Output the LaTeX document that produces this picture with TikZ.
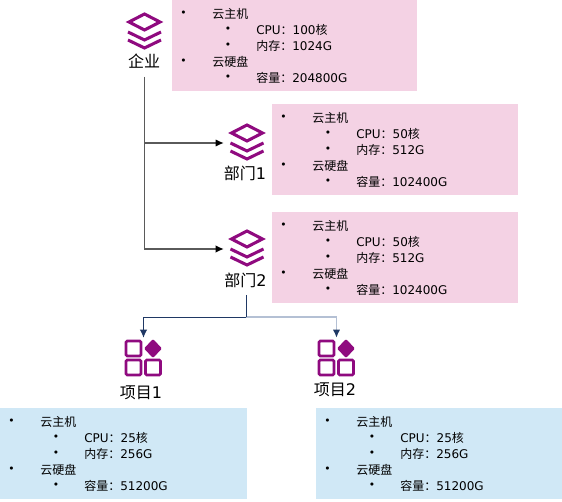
\documentclass[tikz,border=0pt]{standalone}
\usepackage{fontspec}
\setmainfont{Noto Sans CJK SC}
\newfontfamily\latinfont{DejaVu Sans}
\usetikzlibrary{arrows.meta}
\definecolor{iconpurple}{HTML}{8F0A7F}
\definecolor{panelpink}{HTML}{F4D2E4}
\definecolor{panelblue}{HTML}{D0E8F6}
\definecolor{linegrey}{HTML}{5A5A5A}
\definecolor{linenavy}{HTML}{1F3864}
\definecolor{linepale}{HTML}{B4C0D4}
\tikzset{
    paneltext/.style={anchor=west,inner sep=0pt,font=\fontsize{9pt}{9pt}\selectfont},
    dotmark/.style={anchor=center,inner sep=0pt,font=\latinfont\fontsize{8pt}{8pt}\selectfont},
    orglabel/.style={inner sep=0pt,font=\fontsize{12pt}{12pt}\selectfont},
    iconline/.style={draw=iconpurple,line width=2.3pt,line join=miter},
    pics/stackicon/.style={code={
        \node[minimum width=34.5pt,minimum height=30pt,inner sep=0pt] (-box) at (0,0) {};
        \draw[iconline] (-15.5,-10) -- (0,-18) -- (15.5,-10) -- (0,-2) -- cycle;
        \draw[iconline] (-16.5,0) -- (0,8) -- (16.5,0);
        \draw[iconline] (-16.5,8) -- (0,16) -- (16.5,8);
    }},
    pics/gridicon/.style={code={
        \node[minimum width=30pt,minimum height=30pt,inner sep=0pt] (-box) at (0,0) {};
        \draw[iconline,rounded corners=1pt,line width=2pt] (-17.5,-17) rectangle (-2.5,-2);
        \draw[iconline,rounded corners=1pt,line width=2pt] (-17.5,2) rectangle (-2.5,17);
        \draw[iconline,rounded corners=1pt,line width=2pt] (2,2) rectangle (17,17);
        \fill[iconpurple,rounded corners=1pt] (9.5,-19) -- (18.5,-9.5) -- (9.5,0) -- (0.5,-9.5) -- cycle;
    }},
    % #1 fill, #2 cpu, #3 memory, #4 disk, #5 width
    pics/resbox/.style n args={5}{code={
        \fill[#1] (0,0) rectangle (#5,91);
        \node[dotmark] (-d1) at (11.5,14) {•};
        \node[paneltext] (-t1) at (40,13.5) {云主机};
        \node[dotmark] (-d2) at (56,30) {•};
        \node[paneltext] (-t2) at (84,29.5) {{\latinfont CPU}：#2核};
        \node[dotmark] (-d3) at (56,46) {•};
        \node[paneltext] (-t3) at (84,45.5) {内存：{\latinfont #3G}};
        \node[dotmark] (-d4) at (11.5,62) {•};
        \node[paneltext] (-t4) at (40,61.5) {云硬盘};
        \node[dotmark] (-d5) at (56,78) {•};
        \node[paneltext] (-t5) at (84,77.5) {容量：{\latinfont #4G}};
    }},
}
\begin{document}
\begin{tikzpicture}[x=0.75pt,y=-0.75pt,>={Latex[length=6pt,width=5.5pt,color=linenavy]}]
    \useasboundingbox (0,0) rectangle (562,502);
    % panels
    \pic (boxqiye) at (172,0) {resbox={panelpink}{{\latinfont 100}}{1024}{204800}{245}};
    \pic (boxbu1) at (272,104) {resbox={panelpink}{{\latinfont 50}}{512}{102400}{246}};
    \pic (boxbu2) at (272,212) {resbox={panelpink}{{\latinfont 50}}{512}{102400}{246}};
    \pic (boxxm1) at (0,408) {resbox={panelblue}{{\latinfont 25}}{256}{51200}{247}};
    \pic (boxxm2) at (316,408) {resbox={panelblue}{{\latinfont 25}}{256}{51200}{246}};
    % icons and names
    \pic (iconqiye) at (144.5,32) {stackicon};
    \pic (iconbu1) at (247,143) {stackicon};
    \pic (iconbu2) at (247,249) {stackicon};
    \pic (iconxm1) at (143.5,358) {gridicon};
    \pic (iconxm2) at (336.5,358) {gridicon};
    \node[orglabel] (qiye) at (144,61) {企业};
    \node[orglabel] (bu1) at (245,173) {部门{\latinfont 1}};
    \node[orglabel] (bu2) at (245.5,280) {部门{\latinfont 2}};
    \node[orglabel] (xm1) at (141,393) {项目{\latinfont 1}};
    \node[orglabel] (xm2) at (335,390) {项目{\latinfont 2}};
    % connectors
    \coordinate (qiyeout) at (144.5,77);
    \coordinate (buout) at (246,295);
    \coordinate (fork) at (246,317);
    \draw[-{Latex[length=6pt,width=5.5pt,color=black]},linegrey,line width=0.9pt] (qiyeout) |- (iconbu1-box.west);
    \draw[-{Latex[length=6pt,width=5.5pt,color=black]},linegrey,line width=0.8pt] (qiyeout) |- (iconbu2-box.west);
    \draw[->,linepale,line width=1.1pt] (fork) -| (iconxm2-box.north);
    \draw[->,linenavy,line width=0.7pt] (fork) -| (iconxm1-box.north);
    \draw[linenavy,line width=0.7pt] (buout) -- (fork);
\end{tikzpicture}
\end{document}
